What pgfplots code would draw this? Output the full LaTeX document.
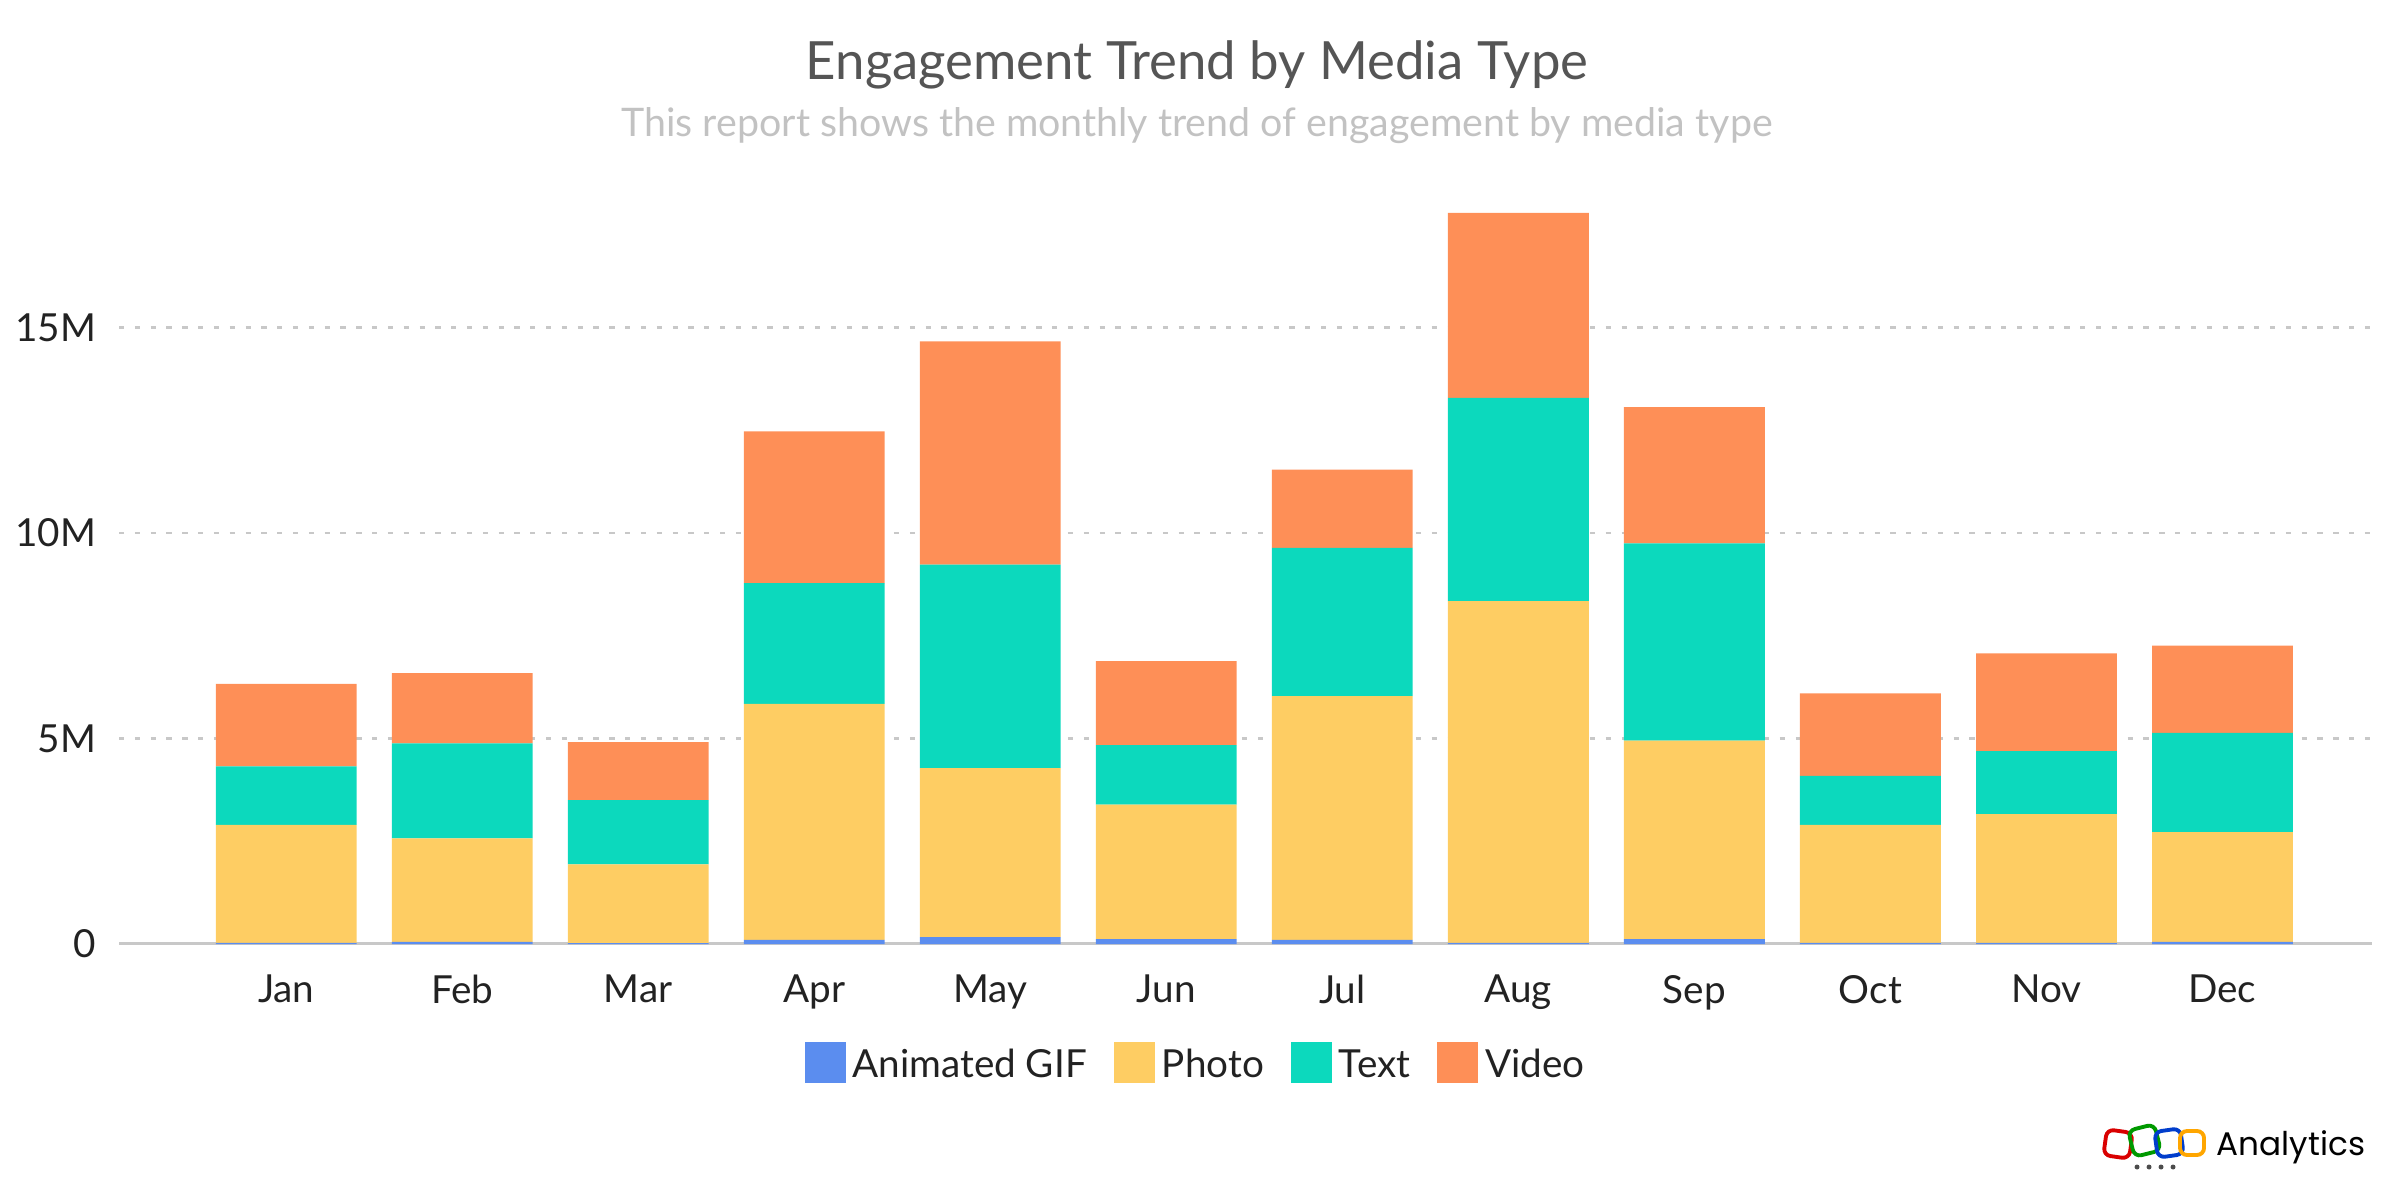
\documentclass[border=0pt]{standalone}
\usepackage{pgfplots}
\pgfplotsset{compat=1.18}
\usepackage{fontspec}
\setmainfont{Lato}
\newfontfamily\logofont{Poppins}
\definecolor{cgif}{HTML}{5B8DEF}
\definecolor{cphoto}{HTML}{FECD63}
\definecolor{ctext}{HTML}{0CD9BD}
\definecolor{cvideo}{HTML}{FE8F57}
\definecolor{cgrid}{HTML}{C8C8C8}
\definecolor{ctitle}{HTML}{555555}
\definecolor{csub}{HTML}{C2C2C2}
\definecolor{clab}{HTML}{222222}
\begin{document}
\begin{tikzpicture}
\path[use as bounding box] (0,0) rectangle (24cm,12cm);
\node[anchor=base, text=ctitle, font=\fontsize{15}{18}\selectfont] at (11.97cm,11.2cm) {Engagement Trend by Media Type};
\node[anchor=base, text=csub, font=\fontsize{11.2}{13}\selectfont] at (11.97cm,10.63cm) {This report shows the monthly trend of engagement by media type};
\begin{axis}[
  scale only axis,
  width=22.53cm, height=7.316cm,
  at={(1.19cm,2.56cm)}, anchor=south west,
  ybar stacked, bar width=0.8,
  xmin=-0.95, xmax=11.85, ymin=0, ymax=17.8,
  axis line style={draw=none},
  major tick length=0pt,
  xtick={0,...,11},
  xticklabels={Jan,Feb,Mar,Apr,May,Jun,Jul,Aug,Sep,Oct,Nov,Dec},
  ytick={5,10,15}, yticklabels={5M,10M,15M},
  extra y ticks={0}, extra y tick labels={0},
  extra y tick style={grid=none},
  ymajorgrids,
  grid style={cgrid, line width=0.8pt, dash pattern=on 1.5pt off 3pt},
  /pgf/number format/assume math mode=true,
  ticklabel style={text=clab, font=\fontsize{11}{13}\selectfont},
  xticklabel style={yshift=-5.3pt},
  yticklabel style={xshift=-3pt},
  legend style={at={(0.479,-0.167)}, anchor=center, draw=none, fill=none,
    legend columns=-1, font=\fontsize{11}{13}\selectfont, text=clab,
    /tikz/every even column/.append style={column sep=0.2cm},
    /tikz/every odd column/.append style={column sep=0cm}},
]
\addplot[fill=cgif, draw=none, legend image code/.code={\fill[cgif] (0cm,-0.17cm) rectangle (0.41cm,0.24cm);}] coordinates {
(0,0.03) (1,0.05) (2,0.02) (3,0.10) (4,0.17) (5,0.12) (6,0.10) (7,0.03) (8,0.12) (9,0.03) (10,0.03) (11,0.05)};
\addplot[fill=cphoto, draw=none, legend image code/.code={\fill[cphoto] (0cm,-0.17cm) rectangle (0.41cm,0.24cm);}] coordinates {
(0,2.87) (1,2.52) (2,1.92) (3,5.74) (4,4.11) (5,3.27) (6,5.93) (7,8.31) (8,4.83) (9,2.87) (10,3.13) (11,2.67)};
\addplot[fill=ctext, draw=none, legend image code/.code={\fill[ctext] (0cm,-0.17cm) rectangle (0.41cm,0.24cm);}] coordinates {
(0,1.42) (1,2.31) (2,1.56) (3,2.94) (4,4.95) (5,1.45) (6,3.61) (7,4.95) (8,4.80) (9,1.19) (10,1.53) (11,2.42)};
\addplot[fill=cvideo, draw=none, legend image code/.code={\fill[cvideo] (0cm,-0.17cm) rectangle (0.41cm,0.24cm);}] coordinates {
(0,2.01) (1,1.71) (2,1.41) (3,3.69) (4,5.43) (5,2.04) (6,1.90) (7,4.50) (8,3.31) (9,2.01) (10,2.38) (11,2.12)};
\legend{Animated GIF,Photo,Text,Video}
\draw[cgrid, line width=1.2pt] (rel axis cs:0,0) -- (rel axis cs:1,0);
\end{axis}
% logo
\begin{scope}[line width=1.1pt]
\draw[red!85!black, rounded corners=2pt, rotate around={-8:(21.18cm,0.56cm)}] (21.05cm,0.43cm) rectangle (21.31cm,0.69cm);
\draw[green!60!black, rounded corners=2pt, rotate around={14:(21.445cm,0.59cm)}] (21.31cm,0.46cm) rectangle (21.58cm,0.73cm);
\draw[blue!70!cyan!80!black, rounded corners=2pt, rotate around={8:(21.69cm,0.57cm)}] (21.56cm,0.44cm) rectangle (21.82cm,0.70cm);
\draw[orange!70!yellow, rounded corners=2pt] (21.80cm,0.45cm) rectangle (22.04cm,0.69cm);
\end{scope}
\foreach \x in {21.37,21.49,21.61,21.73} \fill[black!70] (\x cm,0.33cm) circle (0.025cm);
\node[anchor=base west, inner sep=0pt, font=\logofont\fontsize{9.3}{11}\selectfont] at (22.16cm,0.45cm) {Analytics};
\end{tikzpicture}
\end{document}
